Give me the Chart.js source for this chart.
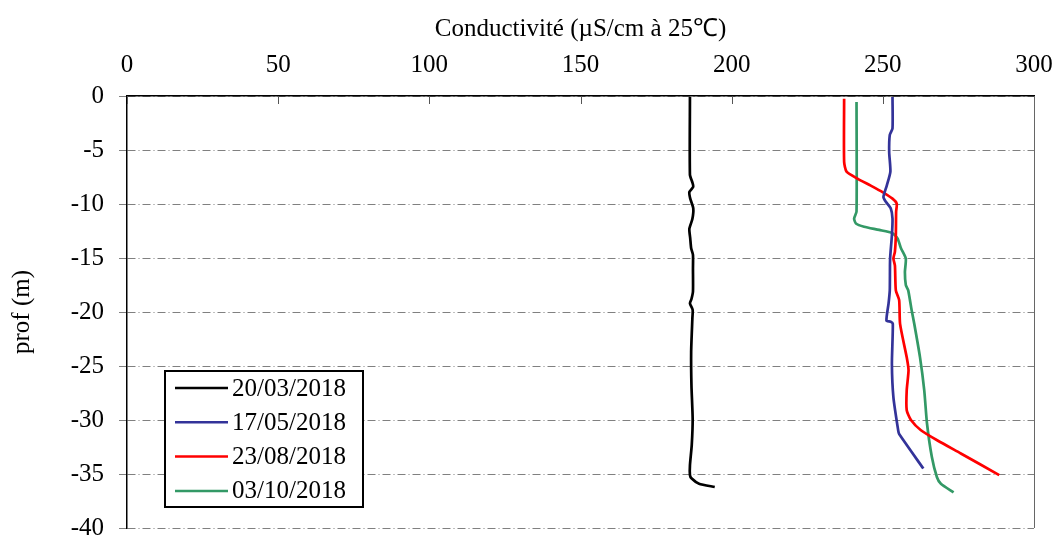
<!DOCTYPE html>
<html>
<head>
<meta charset="utf-8">
<script src="https://cdn.jsdelivr.net/npm/chart.js@4/dist/chart.umd.min.js"></script>
<style>
  html, body { margin: 0; padding: 0; background: #fff; }
  #wrap { width: 1056px; height: 538px; }
</style>
</head>
<body>
<div id="wrap"><canvas id="chart" width="1056" height="538"></canvas></div>
<script>
// depth (m) and conductivity (µS/cm at 25 °C)
const seriesLabels = ['20/03/2018', '17/05/2018', '23/08/2018', '03/10/2018'];
const seriesColors = ['#000000', '#333399', '#ff0000', '#339966'];

const depthMar = [-0.1, -7.3, -8.0, -8.4, -8.9, -9.5, -10.4, -11.4, -12.3, -13.2, -14.1, -14.7, -16.0, -18.1, -18.8, -19.2, -19.8, -20.6, -23.7, -26.8, -29.9, -32.3, -34.2, -35.1, -35.4, -35.9, -36.2];
const condMar = [186.2, 186.2, 187.0, 187.3, 186.0, 186.3, 187.3, 187.0, 186.0, 186.3, 186.6, 187.2, 187.2, 187.2, 186.7, 186.2, 187.1, 187.0, 186.6, 186.7, 187.1, 186.8, 186.2, 186.2, 186.7, 189.2, 194.4];

const depthMay = [-0.1, -3.0, -3.6, -5.2, -7.0, -8.3, -9.35, -9.8, -10.4, -11.35, -12.9, -15.1, -18.0, -19.2, -20.8, -20.9, -21.1, -24.8, -27.9, -31.0, -31.3, -34.5];
const condMay = [253.2, 253.2, 252.3, 252.1, 252.5, 251.3, 250.2, 251.0, 252.6, 253.2, 253.0, 252.4, 252.3, 251.9, 251.2, 252.6, 253.3, 253.0, 253.5, 255.1, 255.4, 263.4];

const depthAug = [-0.25, -6.1, -7.0, -7.65, -8.3, -8.9, -9.5, -9.96, -10.7, -12.9, -14.4, -15.05, -15.7, -18.0, -18.9, -21.1, -24.2, -25.4, -27.25, -29.1, -30.0, -30.95, -31.9, -33.1, -35.1];
const condAug = [237.2, 237.2, 238.0, 241.6, 246.0, 249.9, 253.2, 254.6, 254.4, 254.3, 254.0, 253.5, 254.0, 254.3, 255.4, 255.7, 257.9, 258.5, 257.9, 257.9, 259.3, 262.6, 268.1, 275.8, 288.5];

const depthOct = [-0.55, -10.7, -11.35, -11.8, -12.1, -12.4, -12.7, -13.2, -14.1, -15.05, -16.3, -17.5, -18.0, -19.8, -21.1, -24.2, -27.25, -30.3, -33.4, -35.3, -35.9, -36.7];
const condOct = [241.3, 241.3, 240.5, 241.1, 243.8, 248.8, 253.2, 254.9, 256.0, 257.6, 257.3, 257.6, 258.4, 259.5, 260.4, 262.3, 263.7, 264.6, 266.2, 267.9, 269.2, 273.4];

const depths = [depthMar, depthMay, depthAug, depthOct];
const conds = [condMar, condMay, condAug, condOct];

const FONT = "'Liberation Serif', 'Times New Roman', serif";

const datasets = seriesLabels.map((label, i) => ({
  label,
  data: depths[i].map((d, j) => ({ x: conds[i][j], y: d })),
  borderColor: seriesColors[i],
  backgroundColor: seriesColors[i],
  borderWidth: 2.7,
  pointRadius: 0,
  showLine: true,
  tension: 0.2,
}));

// inward ticks on the top axis, grey right border and the boxed legend
const extras = {
  id: 'extras',
  afterDraw(chart) {
    const { ctx, chartArea: a, scales } = chart;
    ctx.save();
    ctx.strokeStyle = '#555';
    ctx.lineWidth = 1;
    scales.x.ticks.forEach((t) => {
      const px = Math.round(scales.x.getPixelForValue(t.value)) + 0.5;
      ctx.beginPath();
      ctx.moveTo(px, a.top);
      ctx.lineTo(px, a.top + 8);
      ctx.stroke();
    });
    ctx.strokeStyle = '#666';
    ctx.beginPath();
    ctx.moveTo(Math.round(a.right) + 0.5, a.top);
    ctx.lineTo(Math.round(a.right) + 0.5, a.bottom);
    ctx.stroke();

    // legend box
    const bx = a.left + 38, bw = 198, bh = 136;
    const by = a.bottom - 21 - bh;
    ctx.strokeStyle = '#000';
    ctx.lineWidth = 2;
    ctx.fillStyle = '#fff';
    ctx.fillRect(bx, by, bw, bh);
    ctx.strokeRect(bx, by, bw, bh);
    ctx.font = '25px ' + FONT;
    ctx.textBaseline = 'middle';
    chart.data.datasets.forEach((ds, i) => {
      const cy = by + 17 + i * 34.3;
      ctx.strokeStyle = ds.borderColor;
      ctx.lineWidth = 2.5;
      ctx.beginPath();
      ctx.moveTo(bx + 10, cy);
      ctx.lineTo(bx + 63, cy);
      ctx.stroke();
      ctx.fillStyle = '#000';
      ctx.fillText(ds.label, bx + 67, cy + 1);
    });
    ctx.restore();
  },
};

// fixed axis sizes, and no extra room for overhanging tick labels
function fitX(s) { s.height = 96; s.paddingLeft = 0; s.paddingRight = 0; }
function fitY(s) { s.width = 127; s.paddingTop = 0; s.paddingBottom = 0; }

new Chart(document.getElementById('chart'), {
  type: 'scatter',
  data: { datasets },
  plugins: [extras],
  options: {
    responsive: false,
    devicePixelRatio: 1,
    animation: false,
    layout: { padding: { left: 0, top: 0, right: 22, bottom: 10 } },
    plugins: {
      legend: { display: false },
      tooltip: { enabled: false },
    },
    scales: {
      x: {
        type: 'linear',
        position: 'top',
        min: 0,
        max: 300,
        afterFit: fitX,
        ticks: { stepSize: 50, color: '#000', padding: 16, font: { family: FONT, size: 25 } },
        grid: { display: true, drawOnChartArea: false, drawTicks: false },
        border: { color: '#000', width: 1.5 },
        title: {
          display: true,
          text: 'Conductivité (µS/cm à 25℃)',
          color: '#000',
          padding: { top: 14, bottom: 0 },
          font: { family: FONT, size: 25 },
        },
      },
      y: {
        type: 'linear',
        min: -40,
        max: 0,
        afterFit: fitY,
        ticks: { stepSize: 5, color: '#000', padding: 15, font: { family: FONT, size: 25 } },
        grid: {
          color: '#808080',
          lineWidth: 1,
          tickLength: 8,
          tickColor: '#808080',
          tickBorderDash: [],
        },
        border: { color: '#000', width: 1.5, dash: [8, 3, 1, 3] },
        title: {
          display: true,
          text: 'prof (m)',
          color: '#000',
          padding: { top: 7, bottom: 0 },
          font: { family: FONT, size: 25 },
        },
      },
    },
  },
});
</script>
</body>
</html>
